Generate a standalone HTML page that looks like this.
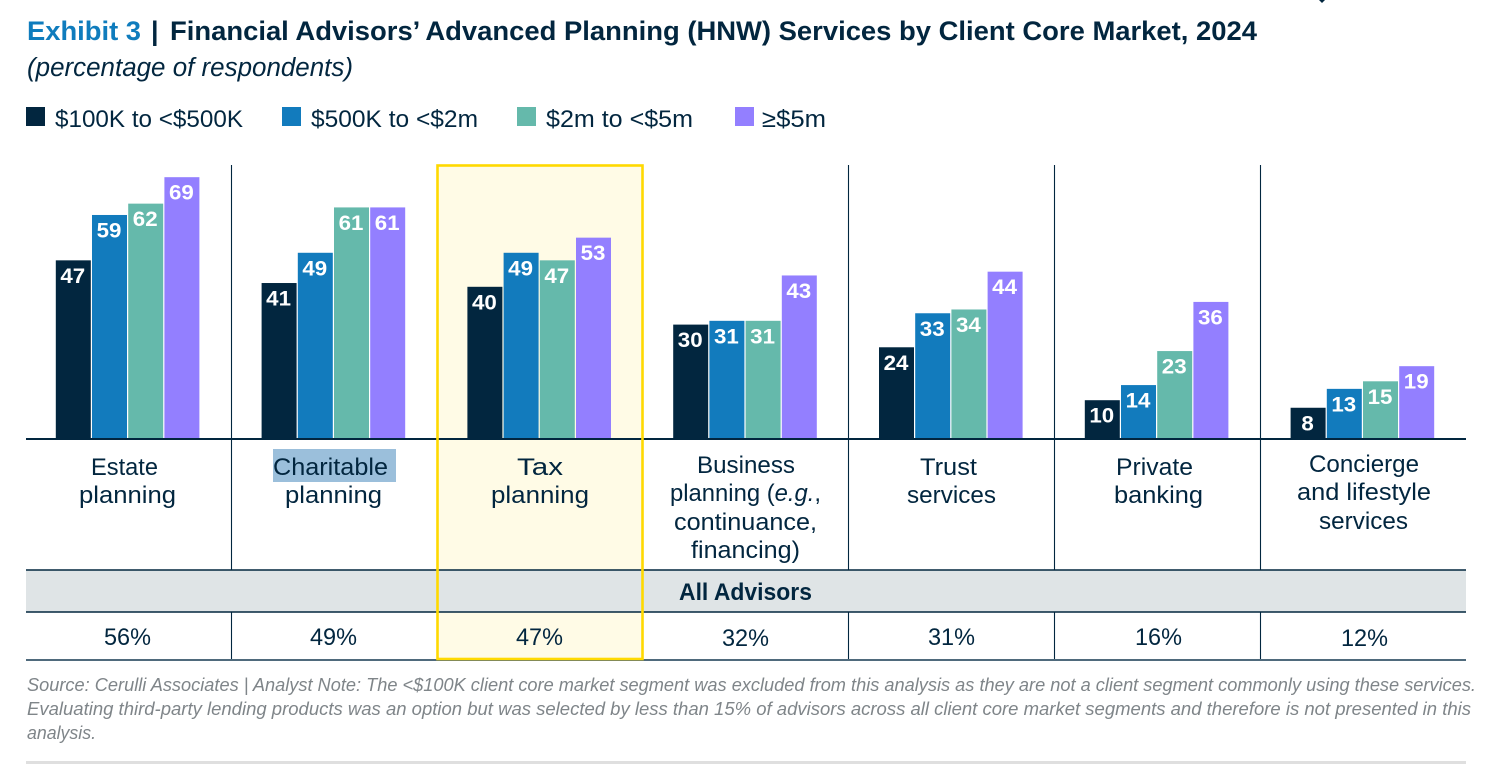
<!DOCTYPE html>
<html lang="en">
<head>
<meta charset="utf-8">
<title>Exhibit 3</title>
<style>
html,body{margin:0;padding:0;background:#fff;width:1500px;height:770px;overflow:hidden}
svg{display:block}
text{font-family:"Liberation Sans",sans-serif;fill:#02263f}
.cat,.pct{font-size:24.5px;text-anchor:start}
.leg{font-size:24.5px}
.note{font-size:18px;font-style:italic;fill:#7f8589}
.val{font-size:21px;font-weight:bold;fill:#fff}
.rule{stroke:#02263f;stroke-width:1.1}
</style>
</head>
<body>
<svg id="chart" width="1500" height="770" viewBox="0 0 1500 770" xmlns="http://www.w3.org/2000/svg">
  <rect x="0" y="0" width="1500" height="770" fill="#fff"/>
  <path d="M1319 0h6l-3 3z" fill="#02263f"/>

  <text x="27" y="40" font-size="27" font-weight="bold" style="fill:#0f7cbd" textLength="114" lengthAdjust="spacingAndGlyphs">Exhibit 3</text>
  <text x="151" y="40" font-size="27" font-weight="bold">|</text>
  <text x="170" y="40" font-size="27" font-weight="bold" textLength="1087" lengthAdjust="spacingAndGlyphs">Financial Advisors’ Advanced Planning (HNW) Services by Client Core Market, 2024</text>
  <text x="27" y="76" font-size="25.5" font-style="italic" textLength="326" lengthAdjust="spacingAndGlyphs">(percentage of respondents)</text>

  <g>
    <rect x="26" y="107" width="19" height="19" fill="#02263f"/>
    <text class="leg" x="55" y="127" textLength="188" lengthAdjust="spacingAndGlyphs">$100K to &lt;$500K</text>
    <rect x="282" y="107" width="19" height="19" fill="#127bbd"/>
    <text class="leg" x="311" y="127" textLength="167" lengthAdjust="spacingAndGlyphs">$500K to &lt;$2m</text>
    <rect x="517" y="107" width="19" height="19" fill="#65b9ab"/>
    <text class="leg" x="546" y="127" textLength="147" lengthAdjust="spacingAndGlyphs">$2m to &lt;$5m</text>
    <rect x="735" y="107" width="19" height="19" fill="#937fff"/>
    <text class="leg" x="762" y="127" textLength="64" lengthAdjust="spacingAndGlyphs">≥$5m</text>
  </g>

  <rect x="438" y="165" width="205" height="494" fill="#fffbe6"/>
  <rect x="26" y="570" width="1440" height="42" fill="#dfe4e6"/>

  <g>
    <line class="rule" x1="231.5" y1="165" x2="231.5" y2="570"/>
    <line class="rule" x1="848.5" y1="165" x2="848.5" y2="570"/>
    <line class="rule" x1="1054.5" y1="165" x2="1054.5" y2="570"/>
    <line class="rule" x1="1260.5" y1="165" x2="1260.5" y2="570"/>
    <line class="rule" x1="231.5" y1="612" x2="231.5" y2="660"/>
    <line class="rule" x1="848.5" y1="612" x2="848.5" y2="660"/>
    <line class="rule" x1="1054.5" y1="612" x2="1054.5" y2="660"/>
    <line class="rule" x1="1260.5" y1="612" x2="1260.5" y2="660"/>
  </g>

  <g id="bars"></g>

  <line x1="26" y1="439" x2="1466" y2="439" stroke="#02263f" stroke-width="2"/>
  <line x1="26" y1="570" x2="1466" y2="570" stroke="#02263f" stroke-width="1.6"/>
  <line x1="26" y1="612" x2="1466" y2="612" stroke="#02263f" stroke-width="1.6"/>
  <line x1="26" y1="660" x2="1466" y2="660" stroke="#4f6a7c" stroke-width="2"/>

  <rect x="273" y="449" width="123" height="33" fill="#9bbfdb"/>

  <g>
    <text class="cat" x="91" y="475" textLength="67" lengthAdjust="spacingAndGlyphs">Estate</text>
    <text class="cat" x="79" y="503" textLength="97" lengthAdjust="spacingAndGlyphs">planning</text>
    <text class="cat" x="273" y="475" textLength="115" lengthAdjust="spacingAndGlyphs">Charitable</text>
    <text class="cat" x="285" y="503" textLength="97" lengthAdjust="spacingAndGlyphs">planning</text>
    <text class="cat" x="517" y="475" textLength="46" lengthAdjust="spacingAndGlyphs">Tax</text>
    <text class="cat" x="491" y="503" textLength="98" lengthAdjust="spacingAndGlyphs">planning</text>
    <text class="cat" x="697" y="473" textLength="98" lengthAdjust="spacingAndGlyphs">Business</text>
    <text class="cat" x="670" y="501" textLength="151" lengthAdjust="spacingAndGlyphs">planning (<tspan font-style="italic">e.g.</tspan>,</text>
    <text class="cat" x="674" y="530" textLength="143" lengthAdjust="spacingAndGlyphs">continuance,</text>
    <text class="cat" x="691" y="558" textLength="109" lengthAdjust="spacingAndGlyphs">financing)</text>
    <text class="cat" x="920" y="475" textLength="57" lengthAdjust="spacingAndGlyphs">Trust</text>
    <text class="cat" x="907" y="503" textLength="89" lengthAdjust="spacingAndGlyphs">services</text>
    <text class="cat" x="1116" y="475" textLength="77" lengthAdjust="spacingAndGlyphs">Private</text>
    <text class="cat" x="1114" y="503" textLength="89" lengthAdjust="spacingAndGlyphs">banking</text>
    <text class="cat" x="1309" y="472" textLength="110" lengthAdjust="spacingAndGlyphs">Concierge</text>
    <text class="cat" x="1297" y="500" textLength="134" lengthAdjust="spacingAndGlyphs">and lifestyle</text>
    <text class="cat" x="1319" y="529" textLength="89" lengthAdjust="spacingAndGlyphs">services</text>
  </g>

  <text x="679" y="600" font-size="24.5" font-weight="bold" textLength="133" lengthAdjust="spacingAndGlyphs">All Advisors</text>

  <g>
    <text class="pct" x="104" y="645" textLength="47" lengthAdjust="spacingAndGlyphs">56%</text>
    <text class="pct" x="310" y="645" textLength="47" lengthAdjust="spacingAndGlyphs">49%</text>
    <text class="pct" x="516" y="645" textLength="47" lengthAdjust="spacingAndGlyphs">47%</text>
    <text class="pct" x="722" y="646" textLength="47" lengthAdjust="spacingAndGlyphs">32%</text>
    <text class="pct" x="928" y="645" textLength="47" lengthAdjust="spacingAndGlyphs">31%</text>
    <text class="pct" x="1135" y="645" textLength="47" lengthAdjust="spacingAndGlyphs">16%</text>
    <text class="pct" x="1341" y="646" textLength="47" lengthAdjust="spacingAndGlyphs">12%</text>
  </g>

  <rect x="437.5" y="165.5" width="205" height="493.5" fill="none" stroke="#ffd900" stroke-width="2.6"/>

  <g>
    <text class="note" x="27" y="691" textLength="1449" lengthAdjust="spacingAndGlyphs">Source: Cerulli Associates | Analyst Note: The &lt;$100K client core market segment was excluded from this analysis as they are not a client segment commonly using these services.</text>
    <text class="note" x="27" y="715" textLength="1444" lengthAdjust="spacingAndGlyphs">Evaluating third-party lending products was an option but was selected by less than 15% of advisors across all client core market segments and therefore is not presented in this</text>
    <text class="note" x="27" y="739" textLength="69" lengthAdjust="spacingAndGlyphs">analysis.</text>
  </g>

  <line x1="26" y1="762.5" x2="1466" y2="762.5" stroke="#dfdfdf" stroke-width="3"/>
</svg>
<script>
const categories = ["Estate planning", "Charitable planning", "Tax planning", "Business planning", "Trust services", "Private banking", "Concierge and lifestyle services"];
const seriesNames = ["$100K to <$500K", "$500K to <$2m", "$2m to <$5m", ">=$5m"];
const seriesA = [47, 41, 40, 30, 24, 10, 8];
const seriesB = [59, 49, 49, 31, 33, 14, 13];
const seriesC = [62, 61, 47, 31, 34, 23, 15];
const seriesD = [69, 61, 53, 43, 44, 36, 19];

const allSeries = [seriesA, seriesB, seriesC, seriesD];
const colors = ["#02263f", "#127bbd", "#65b9ab", "#937fff"];
const SVG_NS = "http://www.w3.org/2000/svg";
const barsGroup = document.getElementById("bars");

function yScale(v) { return 438 - v * 3.78; }
function xScale(catIndex, seriesIndex) { return 55.8 + catIndex * 205.8 + seriesIndex * 36.2; }
function slug(s) { return s.toLowerCase().replace(/[^a-z0-9]+/g, "-"); }

allSeries.forEach(function (values, s) {
  values.forEach(function (v, c) {
    const top = yScale(v);
    const x = xScale(c, s);
    const bar = document.createElementNS(SVG_NS, "rect");
    bar.setAttribute("x", x);
    bar.setAttribute("y", top);
    bar.setAttribute("width", 35);
    bar.setAttribute("height", 438.5 - top);
    bar.setAttribute("fill", colors[s]);
    
    
    barsGroup.appendChild(bar);

    const label = document.createElementNS(SVG_NS, "text");
    const str = String(v);
    label.textContent = str;
    label.setAttribute("class", "val");
    label.setAttribute("x", x + 17 - str.length * 6.2);
    label.setAttribute("y", top + 22.5);
    label.setAttribute("textLength", str.length * 12.4);
    label.setAttribute("lengthAdjust", "spacingAndGlyphs");
    
    
    barsGroup.appendChild(label);
  });
});
</script>
</body>
</html>
